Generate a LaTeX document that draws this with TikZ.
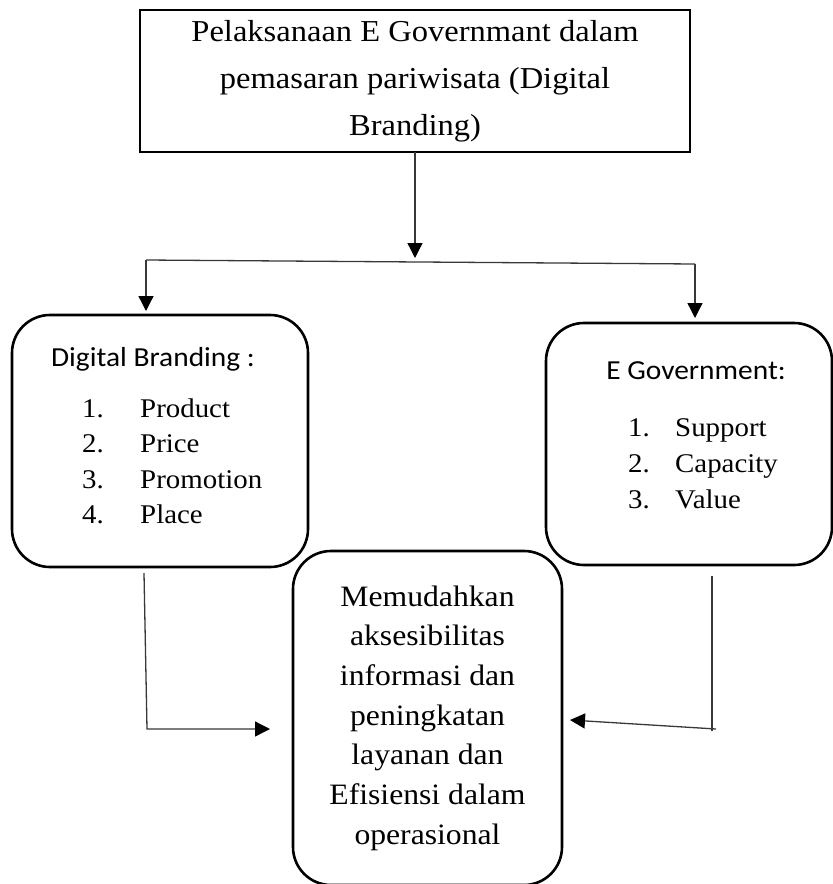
\documentclass[tikz,border=0pt]{standalone}
\usepackage{fontspec}
\setmainfont{Liberation Serif}[FakeStretch=1.07]
\newfontfamily\calibri{Carlito}[FakeStretch=1.07]
\usetikzlibrary{arrows.meta}

\begin{document}
\begin{tikzpicture}[x=1pt,y=-1pt,
  rbox/.style={draw,line width=2.6pt,rounded corners=38pt,outer sep=0pt},
  conn/.style={draw=black!78,line width=1.3pt},
  arr/.style={conn,-{Triangle[length=15pt,width=15pt,color=black]}},
  item/.style={font=\fontsize{27}{36}\selectfont,anchor=base west,inner sep=0pt},
  head/.style={font=\calibri\fontsize{27.5}{30}\selectfont,anchor=base,inner sep=0pt}]
\useasboundingbox (0,0) rectangle (833,884);

\node at(415,81)[draw,line width=2.8pt,minimum width=550pt,minimum height=142pt,outer sep=0pt,
  align=center,font=\fontsize{30.4}{46.8}\selectfont](top){Pelaksanaan E Governmant dalam\\pemasaran pariwisata (Digital\\Branding)};
\node at(160,441)[rbox,minimum width=296pt,minimum height=252pt](db){};
\node at(689,444)[rbox,minimum width=286pt,minimum height=242pt](eg){};
\node at(427.5,718)[rbox,minimum width=269pt,minimum height=334pt,
  align=center,font=\fontsize{29.6}{39.7}\selectfont](res){Memudahkan\\aksesibilitas\\informasi dan\\peningkatan\\layanan dan\\Efisiensi dalam\\operasional};

\node at(153,366.7)[head](dbh){Digital Branding :};
\foreach \t[count=\i] in {Product,Price,Promotion,Place}
\node at(82,{381.5+35.5*\i})[item](dbn\i){\i.}
    node at(140,{381.5+35.5*\i})[item](dbi\i){\t};

\node at(696,379)[head](egh){E Government:};
\foreach \t[count=\i] in {Support,Capacity,Value}
\node at(628,{400.7+36*\i})[item](egn\i){\i.}
    node at(675,{400.7+36*\i})[item](egi\i){\t};

\coordinate (split) at (415,258);
\coordinate (lft) at (146,260);
\coordinate (rgt) at (695,264);
\coordinate (dbfoot) at (144,573);
\coordinate (dbbend) at (147,729);
\coordinate (egfoot) at (712,576);
\coordinate (egbend) at (712,731);
\coordinate (egstart) at (716,729);
\coordinate (egtip) at (570,720);

\draw[arr] (top) -- (split);
\draw[conn] (lft) -- (rgt);
\draw[arr,shorten >=4pt] (lft) -- (lft |- db.north);
\draw[arr,shorten >=5pt] (rgt) -- (rgt |- eg.north);
\draw[arr,shorten >=23pt] (dbfoot) -- (dbbend) -- (dbbend -| res.west);
\draw[conn] (egfoot) -- (egbend);
\draw[arr] (egstart) -- (egtip);
\end{tikzpicture}
\end{document}
